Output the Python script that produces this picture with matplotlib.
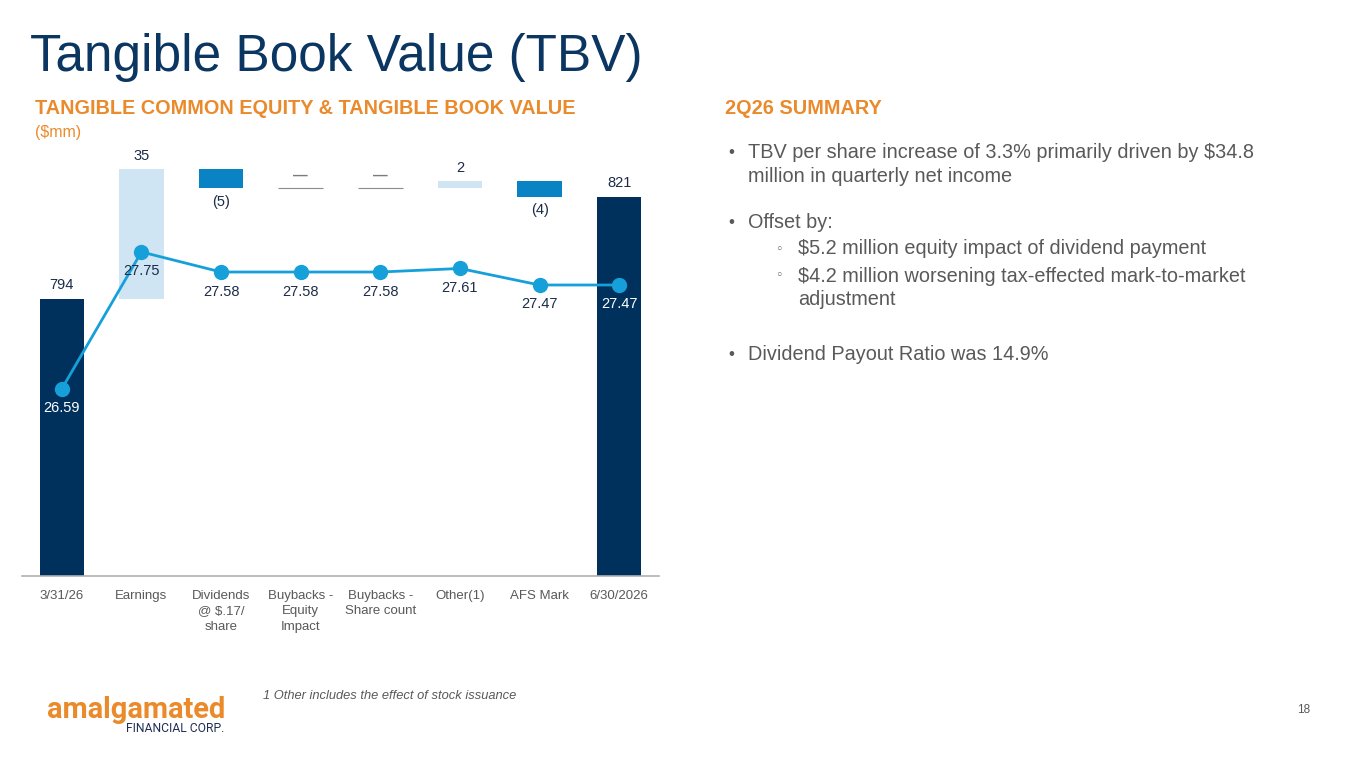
import matplotlib
matplotlib.use("Agg")
import matplotlib.pyplot as plt

plt.rcParams['font.family'] = ['Liberation Sans', 'DejaVu Sans']

# ---------------- data ----------------
categories = ["3/31/26", "Earnings", "Dividends\n@ $.17/\nshare", "Buybacks -\nEquity\nImpact",
              "Buybacks -\nShare count", "Other(1)", "AFS Mark", "6/30/2026"]
start_value = 793.8
changes = [34.8, -5.2, 0.0, 0.0, 2.0, -4.2]
end_value = 821.2
tbv_per_share = [26.59, 27.75, 27.58, 27.58, 27.58, 27.61, 27.47, 27.47]

NAVY = "#00305c"
MID = "#0a83c4"
LIGHT = "#cfe5f3"
LINE = "#16a0da"
ORANGE = "#ea8a2b"
GRAY = "#595959"
LABEL = "#1c2b48"

fig = plt.figure(figsize=(13.65, 7.68), dpi=100)
ax = fig.add_axes([22/1365, 1-576/768, (659-22)/1365, (576-150)/768])
ax2 = ax.twinx()

xs = list(range(len(categories)))
w = 0.56
BASE = 700

# totals
ax.bar(xs[0], start_value - BASE, bottom=BASE, width=w, color=NAVY, zorder=2)
ax.bar(xs[-1], end_value - BASE, bottom=BASE, width=w, color=NAVY, zorder=2)
ax.annotate(f"{start_value:.0f}", (xs[0], start_value), xytext=(0, 5), textcoords="offset points",
            ha="center", va="bottom", fontsize=10.5, color=LABEL)
ax.annotate(f"{end_value:.0f}", (xs[-1], end_value), xytext=(0, 5), textcoords="offset points",
            ha="center", va="bottom", fontsize=10.5, color=LABEL)

running = start_value
for i, c in enumerate(changes):
    xi = xs[i + 1]
    if c > 0:
        ax.bar(xi, c, bottom=running, width=w, color=LIGHT, zorder=2)
        ax.annotate(f"{c:.0f}", (xi, running + c), xytext=(0, 4), textcoords="offset points",
                    ha="center", va="bottom", fontsize=10.5, color=LABEL)
    elif c < 0:
        ax.bar(xi, c, bottom=running, width=w, color=MID, zorder=2)
        ax.annotate(f"({abs(c):.0f})", (xi, running + c), xytext=(0, -5), textcoords="offset points",
                    ha="center", va="top", fontsize=10.5, color=LABEL)
    else:
        ax.bar(xi, 0.0, bottom=running, width=w, color="none", edgecolor="#8c8c8c", linewidth=0.8, zorder=2)
        ax.annotate("—", (xi, running), xytext=(0, 4), textcoords="offset points",
                    ha="center", va="bottom", fontsize=10.5, fontweight="bold", color="#7a7a7a")
    running += c

ax.set_xlim(-0.5, len(categories) - 0.5)
ax.set_ylim(719.74, 833.64)
ax.set_yticks([])
ax.set_xticks(xs)
ax.set_xticklabels(categories, fontsize=9.5, color=GRAY, linespacing=1.4, va="top")
ax.tick_params(axis="x", length=0, pad=10)
for s in ["top", "right", "left"]:
    ax.spines[s].set_visible(False)
ax.spines["bottom"].set_color("#b0b0b0")
ax.spines["bottom"].set_linewidth(1.2)

# TBV per share line
ax2.plot(xs, tbv_per_share, color=LINE, linewidth=2, marker="o", markersize=10, zorder=5)
ax2.set_ylim(25.004, 28.614)
ax2.set_yticks([])
for s in ["top", "right", "left", "bottom"]:
    ax2.spines[s].set_visible(False)
for i, v in enumerate(tbv_per_share):
    col = "white" if i in (0, len(tbv_per_share) - 1) else LABEL
    ax2.annotate(f"{v:.2f}", (xs[i], v), xytext=(0, -9), textcoords="offset points",
                 ha="center", va="top", fontsize=10.5, color=col, zorder=6)

# ---------------- slide text ----------------
def px(x, y):
    return x / 1365, 1 - y / 768

fig.text(*px(30, 57), "Tangible Book Value (TBV)", fontsize=37, color="#0b3661", va="center", ha="left")
fig.text(*px(35, 108), "TANGIBLE COMMON EQUITY & TANGIBLE BOOK VALUE", fontsize=14.3, fontweight="bold",
         color=ORANGE, va="center", ha="left")
fig.text(*px(35, 133), "($mm)", fontsize=11.5, color=ORANGE, va="center", ha="left")

fig.text(*px(725, 108), "2Q26 SUMMARY", fontsize=14.3, fontweight="bold", color=ORANGE, va="center", ha="left")

bullet_fs = 14.3
fig.text(*px(728, 153), "•", fontsize=bullet_fs - 2, color=GRAY, va="center")
fig.text(*px(748, 153), "TBV per share increase of 3.3% primarily driven by $34.8", fontsize=bullet_fs, color=GRAY, va="center")
fig.text(*px(748, 176), "million in quarterly net income", fontsize=bullet_fs, color=GRAY, va="center")
fig.text(*px(728, 222), "•", fontsize=bullet_fs - 2, color=GRAY, va="center")
fig.text(*px(748, 222), "Offset by:", fontsize=bullet_fs, color=GRAY, va="center")
fig.text(*px(775, 249), "◦", fontsize=bullet_fs - 5, color=GRAY, va="center", family=["DejaVu Sans"])
fig.text(*px(798, 249), "$5.2 million equity impact of dividend payment", fontsize=bullet_fs, color=GRAY, va="center")
fig.text(*px(775, 276), "◦", fontsize=bullet_fs - 5, color=GRAY, va="center", family=["DejaVu Sans"])
fig.text(*px(798, 276), "$4.2 million worsening tax-effected mark-to-market", fontsize=bullet_fs, color=GRAY, va="center")
fig.text(*px(798, 299), "adjustment", fontsize=bullet_fs, color=GRAY, va="center")
fig.text(*px(728, 355), "•", fontsize=bullet_fs - 2, color=GRAY, va="center")
fig.text(*px(748, 355), "Dividend Payout Ratio was 14.9%", fontsize=bullet_fs, color=GRAY, va="center")

fig.text(*px(263, 696), "1 Other includes the effect of stock issuance", fontsize=9.25, style="italic", color=GRAY, va="center")
fig.text(*px(1310, 710), "18", fontsize=8.5, color=GRAY, va="center", ha="right")

fig.text(*px(47, 710), "amalgamated", fontsize=20.9, fontweight="bold", color=ORANGE, va="center", ha="left",
         family=["Roboto", "DejaVu Sans"])
fig.text(*px(224, 728), "FINANCIAL CORP.", fontsize=8.7, color="#1f2e55", va="center", ha="right",
         family=["Roboto", "DejaVu Sans"])

fig.savefig("out.png", dpi=100)
